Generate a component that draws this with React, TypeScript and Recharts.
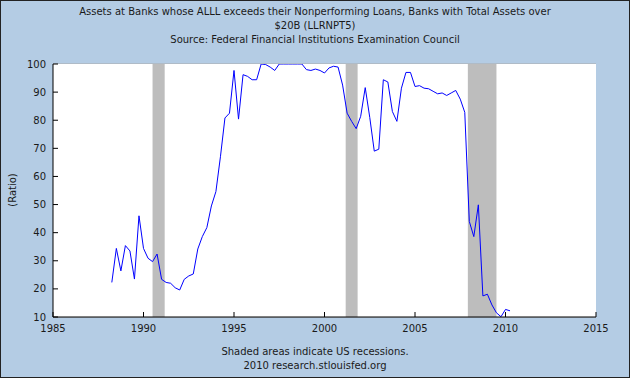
import { ComposedChart, Line, XAxis, YAxis, CartesianGrid, ReferenceArea } from "recharts";

// quarterly observations, the first one is 1988 Q2
const firstQuarter = 1988.25;
const ratio = [
  22.3, 34.4, 26.4, 35.4, 33.5, 23.5, 46, 34.4, 30.9, 29.7, 32.4, 23.4,
  22.3, 22, 20.4, 19.6, 23.4, 24.6, 25.3, 34.2, 38.6, 41.8, 49.5, 54.6,
  67, 80.8, 82.5, 97.7, 80.4, 96.2, 95.6, 94.4, 94.4, 100, 99.8, 98.9,
  97.7, 100, 100, 100, 100, 100, 100, 98, 97.7, 98.2, 97.7, 96.8,
  98.6, 99.2, 98.9, 92.5, 82.5, 79.6, 77, 81.4, 91.6, 81, 69, 69.7,
  94.4, 93.6, 83.1, 79.6, 91.4, 97, 97, 92, 92.3, 91.4, 91.2, 90.3,
  89.4, 89.7, 88.8, 89.7, 90.6, 87.5, 82.8, 44, 38.6, 49.9, 17.5, 18.1,
  14.3, 11.5, 10.1, 12.7, 12.2,
];

const recessions = [
  { start: 1990.5, end: 1991.17 },
  { start: 2001.17, end: 2001.83 },
  { start: 2007.92, end: 2009.5 },
];

const yearTicks = [1985, 1990, 1995, 2000, 2005, 2010, 2015];
const ratioTicks = [10, 20, 30, 40, 50, 60, 70, 80, 90, 100];

const titleLines = [
  "Assets at Banks whose ALLL exceeds their Nonperforming Loans, Banks with Total Assets over",
  "$20B (LLRNPT5)",
  "Source: Federal Financial Institutions Examination Council",
];
const footerLines = ["Shaded areas indicate US recessions.", "2010 research.stlouisfed.org"];

const data = ratio.map((value, i) => ({ year: firstQuarter + i * 0.25, value }));

const textColor = "#1a1a1a";

export default function App() {
  return (
    <div
      style={{
        position: "absolute",
        left: 0,
        top: 0,
        width: 630,
        height: 378,
        background: "#b4cce4",
        fontFamily: "'DejaVu Sans', sans-serif",
        fontSize: 10,
        color: textColor,
      }}
    >
      <div style={{ position: "absolute", top: 5, left: 0, width: 630, textAlign: "center", lineHeight: "14px" }}>
        {titleLines.map((t) => (
          <div key={t}>{t}</div>
        ))}
      </div>
      <div
        style={{
          position: "absolute",
          left: 12,
          top: 190,
          transform: "translate(-50%, -50%) rotate(-90deg)",
          whiteSpace: "nowrap",
        }}
      >
        (Ratio)
      </div>
      <ComposedChart
        width={630}
        height={378}
        data={data}
        margin={{ top: 64, right: 34, bottom: 41, left: 8 }}
      >
        <rect x={53} y={64} width={543} height={253} fill="#fff" />
        <CartesianGrid vertical={false} stroke="#aaaaaa" fill="#ffffff" />
        {recessions.map((r) => (
          <ReferenceArea
            key={r.start}
            x1={r.start}
            x2={r.end}
            y1={10}
            y2={100}
            fill="#bdbdbd"
            fillOpacity={1}
            stroke="none"
            ifOverflow="hidden"
          />
        ))}
        <XAxis
          type="number"
          dataKey="year"
          domain={[1985, 2015]}
          ticks={yearTicks}
          allowDataOverflow
          height={20}
          tickSize={-5}
          tickMargin={13}
          axisLine={{ stroke: "#000" }}
          tickLine={{ stroke: "#000" }}
          tick={{ fill: textColor, fontSize: 10 }}
        />
        <YAxis
          type="number"
          domain={[10, 100]}
          ticks={ratioTicks}
          allowDataOverflow
          width={45}
          tickSize={-5}
          tickMargin={12}
          axisLine={{ stroke: "#000" }}
          tickLine={{ stroke: "#000" }}
          tick={{ fill: textColor, fontSize: 10 }}
        />
        <Line
          type="linear"
          dataKey="value"
          stroke="#0000ff"
          strokeWidth={1}
          dot={false}
          isAnimationActive={false}
        />
      </ComposedChart>
      <div style={{ position: "absolute", top: 345, left: 0, width: 630, textAlign: "center", lineHeight: "14px" }}>
        {footerLines.map((t) => (
          <div key={t}>{t}</div>
        ))}
      </div>
      <div
        style={{
          position: "absolute",
          left: 0,
          top: 0,
          width: 630,
          height: 378,
          boxSizing: "border-box",
          border: "1px solid #222",
          pointerEvents: "none",
        }}
      />
    </div>
  );
}
